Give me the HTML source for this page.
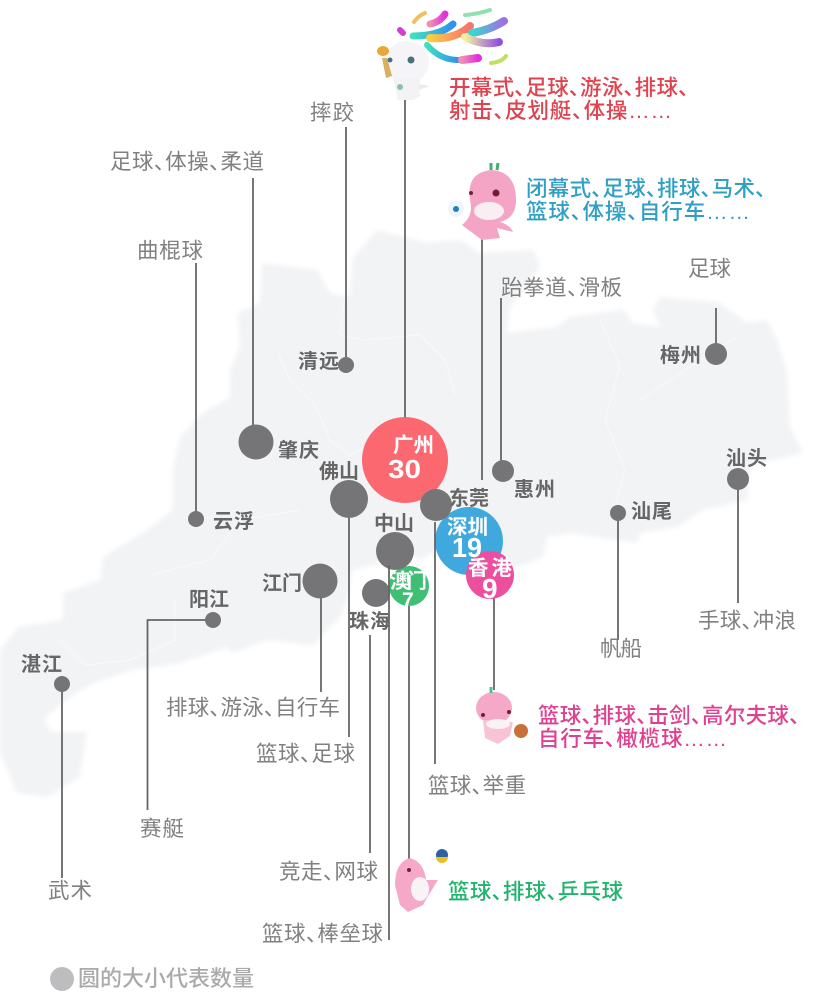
<!DOCTYPE html>
<html lang="zh"><head><meta charset="utf-8"><style>
html,body{margin:0;padding:0;background:#fff;width:813px;height:1004px;overflow:hidden}
svg{display:block;font-family:"Liberation Sans","Noto Sans CJK SC",sans-serif;font-feature-settings:"palt" 1}
.l{font-size:21.500px;fill:#808080;font-weight:400}
.c{font-size:20px;fill:#666;font-weight:700}
.w{font-size:20.500px;fill:#fff;font-weight:700}
.n{fill:#fff;font-weight:700;font-family:"Liberation Sans",sans-serif}
.t{font-size:21.500px;font-weight:500}
line,polyline{stroke:#666;stroke-width:1.800;fill:none}
.d{fill:#757578}
</style></head><body>
<svg width="813" height="1004" viewBox="0 0 813 1004" xmlns="http://www.w3.org/2000/svg">
<defs>
<filter id="b" x="-5%" y="-5%" width="110%" height="110%"><feGaussianBlur stdDeviation="2.500"/></filter>
<linearGradient id="g1" x1="0" x2="1"><stop offset="0" stop-color="#38d8d0"/><stop offset="1" stop-color="#a070e0"/></linearGradient>
<linearGradient id="g2" x1="0" x2="1"><stop offset="0" stop-color="#f8d040"/><stop offset="1" stop-color="#f87070"/></linearGradient>
<linearGradient id="g3" x1="0" x2="1"><stop offset="0" stop-color="#f8f0a0"/><stop offset="1" stop-color="#9050e0"/></linearGradient>
<linearGradient id="g4" x1="0" x2="1"><stop offset="0" stop-color="#40e0c0"/><stop offset="1" stop-color="#3090f0"/></linearGradient>
<linearGradient id="g5" x1="0" x2="1"><stop offset="0" stop-color="#f090b0"/><stop offset="1" stop-color="#e030e0"/></linearGradient>
</defs>
<rect width="813" height="1004" fill="#fff"/>
<g filter="url(#b)">
<path fill="#f1f3f5" d="M0 650 L18 627 L63 620 L63 593 L100 580 L103 557 L143 533 L173 510 L173 470 L180 437 L203 413 L230 397 L230 370 L240 347 L238 313 L260 303 L262 263 L317 270 L330 293 L350 297 L353 257 L377 230 L427 243 L460 240 L480 253 L533 250 L540 267 L510 307 L507 333 L557 327 L570 317 L623 310 L633 323 L660 327 L653 310 L660 297 L720 303 L747 323 L767 320 L777 340 L787 373 L790 427 L803 453 L750 465 L747 500 L703 510 L677 527 L640 533 L637 543 L570 533 L547 537 L543 557 L510 570 L480 585 L470 560 L440 548 L420 560 L400 545 L375 565 L352 570 L347 600 L340 617 L313 645 L267 640 L233 653 L227 647 L180 663 L133 670 L93 683 L70 697 L43 720 L87 730 L80 777 L47 797 L17 793 L0 753 Z"/>
</g>
<path fill="#fff" d="M45 722 L62 708 L90 722 L88 732 L52 732 Z" filter="url(#b)"/>
<g fill="none" stroke="#f8f9fa" stroke-width="1">
<path d="M277 350 L290 380 L315 405 L330 440 L350 455 L370 445"/>
<path d="M345 295 L340 335 L365 340 L420 335 L445 360 L455 395"/>
<path d="M600 320 L620 365 L605 420 L625 470 L615 505"/>
<path d="M640 400 L670 380 L740 335"/>
<path d="M150 575 L210 560 L240 520 L300 510"/>
<path d="M60 640 L85 665 L130 660 L175 640 L175 600"/>
</g>
<!-- connectors -->
<line x1="405" y1="98" x2="405" y2="425"/>
<line x1="346" y1="127" x2="346" y2="360"/>
<line x1="253" y1="178" x2="253" y2="430"/>
<line x1="196" y1="263" x2="196" y2="515"/>
<line x1="482" y1="238" x2="482" y2="480"/>
<line x1="501" y1="298" x2="501" y2="465"/>
<line x1="716" y1="308" x2="716" y2="350"/>
<line x1="738" y1="485" x2="738" y2="603"/>
<line x1="618" y1="520" x2="618" y2="640"/>
<line x1="494" y1="595" x2="494" y2="690"/>
<line x1="349" y1="515" x2="349" y2="737"/>
<line x1="321" y1="595" x2="321" y2="692"/>
<line x1="370" y1="635" x2="370" y2="853"/>
<line x1="409" y1="605" x2="409" y2="860"/>
<polyline points="213,620 147.500,620 147.500,810"/>
<line x1="62" y1="685" x2="62" y2="878"/>
<!-- colored circles -->
<circle cx="405" cy="460" r="43" fill="#fb686f"/>
<circle cx="469" cy="541" r="34" fill="#3fa9de"/>
<circle cx="409" cy="586" r="20" fill="#3fbf74"/>
<circle cx="490" cy="575" r="24" fill="#ed4f9f"/>
<!-- gray circles -->
<circle class="d" cx="349" cy="499" r="19"/>
<circle class="d" cx="256" cy="442" r="17.500"/>
<circle class="d" cx="346" cy="365" r="8"/>
<circle class="d" cx="196" cy="519" r="8"/>
<circle class="d" cx="503" cy="471" r="11"/>
<circle class="d" cx="716" cy="354" r="11"/>
<circle class="d" cx="738" cy="479" r="11"/>
<circle class="d" cx="618" cy="513" r="8"/>
<circle class="d" cx="436" cy="505" r="16"/>
<circle class="d" cx="395" cy="551" r="19"/>
<circle class="d" cx="376" cy="593" r="14"/>
<circle class="d" cx="320" cy="581" r="17.500"/>
<circle class="d" cx="213" cy="620" r="8"/>
<circle class="d" cx="62" cy="684" r="8"/>
<!-- white labels on circles -->
<text class="w" x="393" y="452" textLength="41">广州</text>
<text class="n" x="388" y="478" font-size="26" textLength="33" lengthAdjust="spacingAndGlyphs">30</text>
<text class="w" x="447" y="534" textLength="41">深圳</text>
<text class="n" x="452" y="557" font-size="28" textLength="30" lengthAdjust="spacingAndGlyphs">19</text>
<text class="w" x="468" y="575" textLength="44">香港</text>
<text class="n" x="482" y="598" font-size="28">9</text>
<text class="w" x="390" y="588" textLength="37">澳门</text>
<text class="n" x="402" y="607" font-size="21">7</text>
<line x1="435" y1="522" x2="435" y2="764"/>
<line x1="389" y1="565" x2="389" y2="940"/>
<!-- city labels -->
<text class="c" x="298" y="368" textLength="41">清远</text>
<text class="c" x="278" y="457" textLength="41">肇庆</text>
<text class="c" x="319" y="478" textLength="40">佛山</text>
<text class="c" x="449" y="505" textLength="40">东莞</text>
<text class="c" x="514" y="496" textLength="41">惠州</text>
<text class="c" x="660" y="362" textLength="41">梅州</text>
<text class="c" x="726" y="465" textLength="41">汕头</text>
<text class="c" x="631" y="518" textLength="41">汕尾</text>
<text class="c" x="213" y="528" textLength="41">云浮</text>
<text class="c" x="374" y="530" textLength="40">中山</text>
<text class="c" x="262" y="590" textLength="40">江门</text>
<text class="c" x="189" y="606" textLength="40">阳江</text>
<text class="c" x="349" y="628" textLength="41">珠海</text>
<text class="c" x="21" y="671" textLength="41">湛江</text>
<!-- sport labels -->
<text class="l" x="310" y="120" textLength="44">摔跤</text>
<text class="l" x="110" y="169" textLength="154">足球、体操、柔道</text>
<text class="l" x="137" y="258" textLength="66">曲棍球</text>
<text class="l" x="501" y="295" textLength="121">跆拳道、滑板</text>
<text class="l" x="688" y="276" textLength="43">足球</text>
<text class="l" x="698" y="628" textLength="98">手球、冲浪</text>
<text class="l" x="600" y="656" textLength="42">帆船</text>
<text class="l" x="166" y="715" textLength="174">排球、游泳、自行车</text>
<text class="l" x="256" y="761" textLength="99">篮球、足球</text>
<text class="l" x="428" y="793" textLength="98">篮球、举重</text>
<text class="l" x="140" y="836" textLength="44">赛艇</text>
<text class="l" x="48" y="898" textLength="44">武术</text>
<text class="l" x="279" y="879" textLength="99">竞走、网球</text>
<text class="l" x="262" y="941" textLength="121">篮球、棒垒球</text>
<!-- colored captions -->
<text class="t" x="449" y="95" fill="#e0434f" textLength="240">开幕式、足球、游泳、排球、</text>
<text class="t" x="449" y="118" fill="#e0434f" textLength="223">射击、皮划艇、体操……</text>
<text class="t" x="526" y="196" fill="#2f9fc4" textLength="240">闭幕式、足球、排球、马术、</text>
<text class="t" x="526" y="219" fill="#2f9fc4" textLength="224">篮球、体操、自行车……</text>
<text class="t" x="538" y="723" fill="#e0408f" textLength="262">篮球、排球、击剑、高尔夫球、</text>
<text class="t" x="538" y="746" fill="#e0408f" textLength="189">自行车、橄榄球……</text>
<text class="t" x="448" y="899" fill="#22b46e" textLength="175">篮球、排球、乒乓球</text>
<!-- legend -->
<circle cx="62" cy="979" r="12" fill="#bdbdbf"/>
<text x="78" y="986" font-size="22" fill="#aaa" font-weight="500" textLength="176">圆的大小代表数量</text>
<!-- white mascot with ribbons -->
<g fill="none" stroke-linecap="round">
<path d="M414 22 Q418 16 425 13" stroke="#f0c060" stroke-width="4"/>
<path d="M430 24 Q440 22 445 14" stroke="url(#g5)" stroke-width="7"/>
<path d="M413 36 Q440 36 453 24" stroke="url(#g4)" stroke-width="7"/>
<path d="M430 38 Q455 40 470 26" stroke="url(#g2)" stroke-width="8"/>
<path d="M472 33 Q490 30 504 21" stroke="url(#g1)" stroke-width="8"/>
<path d="M465 37 Q482 46 499 42" stroke="url(#g3)" stroke-width="8"/>
<path d="M427 45 Q440 60 458 60" stroke="url(#g4)" stroke-width="6"/>
<path d="M462 60 L478 58" stroke="url(#g5)" stroke-width="8"/>
<path d="M465 15 Q478 14 490 10" stroke="#90e0b0" stroke-width="4"/>
<path d="M491 63 Q502 62 506 56" stroke="#c0e060" stroke-width="4"/>
<path d="M400 30 L403 33" stroke="#d040d0" stroke-width="6"/>
</g>
<ellipse cx="407" cy="62" rx="22" ry="21" fill="#f5f5f8"/>
<path d="M393 78 L420 78 L420 96 L413 100 L398 100 Z" fill="#f3f3f6"/>
<path d="M419 84 L430 86 L419 90 Z" fill="#ececf0"/>
<path d="M382 58 L386 78 L392 76 L387 58 Z" fill="#d8b060"/>
<ellipse cx="383" cy="51" rx="6" ry="5" fill="#e8a838"/>
<circle cx="411" cy="60" r="3.500" fill="#4a7080"/>
<circle cx="390" cy="60" r="2.500" fill="#4a7080"/>
<circle cx="400" cy="87" r="3" fill="#8cc0a8"/>
<!-- pink mascot 1 -->
<path d="M470 200 Q466 172 492 170 Q516 172 516 200 Q516 218 500 222 Q510 225 513 232 L497 228 L500 238 L482 240 L462 225 Q474 215 470 200 Z" fill="#f4a4c4"/>
<ellipse cx="489" cy="211" rx="15" ry="9" fill="#fbeef2"/>
<circle cx="496" cy="193" r="3.500" fill="#702030"/>
<circle cx="471" cy="193" r="2" fill="#702030"/>
<circle cx="456" cy="209" r="8" fill="#eef5fb"/>
<circle cx="456" cy="209" r="3" fill="#2080c0"/>
<path d="M491 170 l0 -7 M497 170 l1 -7" stroke="#40b070" stroke-width="3"/>
<!-- pink mascot 2 -->
<ellipse cx="494" cy="708" rx="18" ry="16" fill="#f6a8c8"/>
<path d="M483 720 L513 722 L510 736 L498 744 L485 738 Z" fill="#f6c4d6"/>
<ellipse cx="498" cy="724" rx="12" ry="5" fill="#fbf2f5"/>
<circle cx="521" cy="731" r="7" fill="#c87038"/>
<circle cx="483" cy="715" r="2" fill="#702030"/>
<circle cx="509" cy="712" r="2" fill="#702030"/>
<path d="M491 693 l0 -6" stroke="#50c090" stroke-width="3"/>
<!-- pink mascot 3 -->
<path d="M395 885 Q395 862 410 858 Q424 862 426 880 L438 880 L428 896 L423 905 L408 912 L400 905 Z" fill="#f6a8c8"/>
<ellipse cx="420" cy="889" rx="9" ry="12" fill="#f8f3f5"/>
<circle cx="409" cy="870" r="2" fill="#702030"/>
<circle cx="442" cy="855" r="6" fill="#3060a0"/>
<path d="M436 857 a6 6 0 0 0 12 0 Z" fill="#e8c020"/>
</svg>
</body></html>
